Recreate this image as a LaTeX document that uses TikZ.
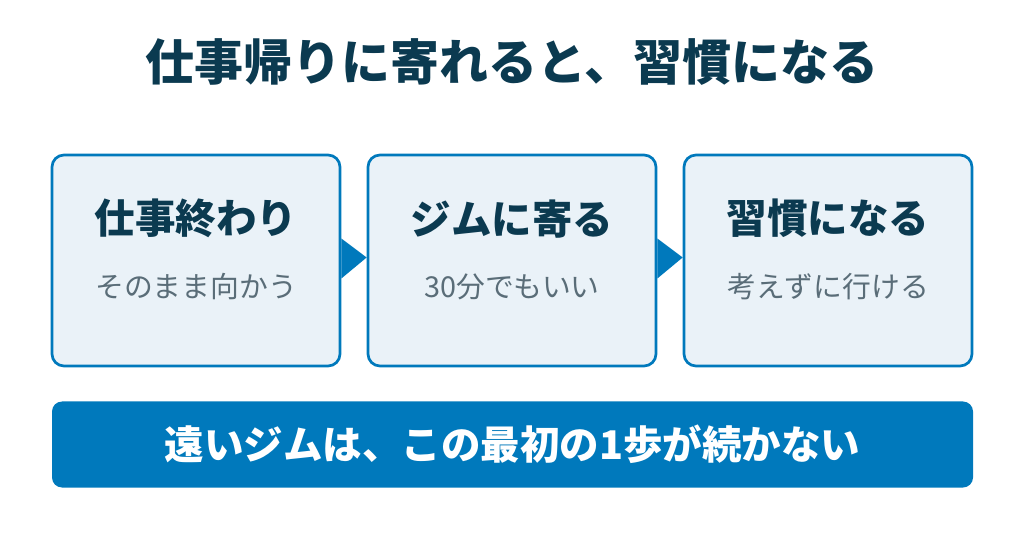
\documentclass[tikz,border=0pt]{standalone}
\usepackage{fontspec}
\setmainfont{Noto Sans CJK JP}
\usepackage{tikz}
\usetikzlibrary{shapes,arrows,calc}
\definecolor{darkblue}{HTML}{0B3A50}
\definecolor{mainblue}{HTML}{0079BC}
\definecolor{paleblue}{HTML}{EAF2F8}
\definecolor{subgrey}{HTML}{5A6D78}
\tikzstyle{stepbox} = [rectangle, rounded corners=12pt, minimum width=288pt, minimum height=211pt, line width=2.7pt, draw=mainblue, fill=paleblue]
\tikzstyle{head} = [font=\fontsize{40.5}{46}\selectfont\bfseries, text=darkblue]
\tikzstyle{sub} = [font=\fontsize{28.8}{32}\selectfont, text=subgrey]
\tikzstyle{bar} = [rectangle, rounded corners=10pt, minimum width=921pt, minimum height=86pt, fill=mainblue, text=white, font=\fontsize{39.5}{46}\selectfont\bfseries]
\tikzstyle{tri} = [fill=mainblue]

\begin{document}
\begin{tikzpicture}[x=1pt, y=1pt, node distance=316pt]
        \useasboundingbox (0,0) rectangle (1024,538);
        \node (title) [font=\fontsize{49}{56}\selectfont\bfseries, text=darkblue] at (512,476) {仕事帰りに寄れると、習慣になる};
        \node (s1) [stepbox] at (196,277.5) {};
        \node (s2) [stepbox, right of=s1] {};
        \node (s3) [stepbox, right of=s2] {};
        \node (h1) [head] at ($(s1.north)+(0,-65)$) {仕事終わり};
        \node (h2) [head] at ($(s2.north)+(0,-65)$) {ジムに寄る};
        \node (h3) [head] at ($(s3.north)+(0,-65)$) {習慣になる};
        \node (t1) [sub] at ($(s1.north)+(0,-133)$) {そのまま向かう};
        \node (t2) [sub] at ($(s2.north)+(0,-133)$) {30分でもいい};
        \node (t3) [sub] at ($(s3.north)+(0,-133)$) {考えずに行ける};
        \fill [tri] ($(s1.east)+(0,22)$) -- ($(s2.west)+(0,3)$) -- ($(s1.east)+(0,-18)$) -- cycle;
        \fill [tri] ($(s2.east)+(0,22)$) -- ($(s3.west)+(0,3)$) -- ($(s2.east)+(0,-18)$) -- cycle;
        \node (note) [bar] at (512.5,93.5) {遠いジムは、この最初の1歩が続かない};
\end{tikzpicture}
\end{document}
